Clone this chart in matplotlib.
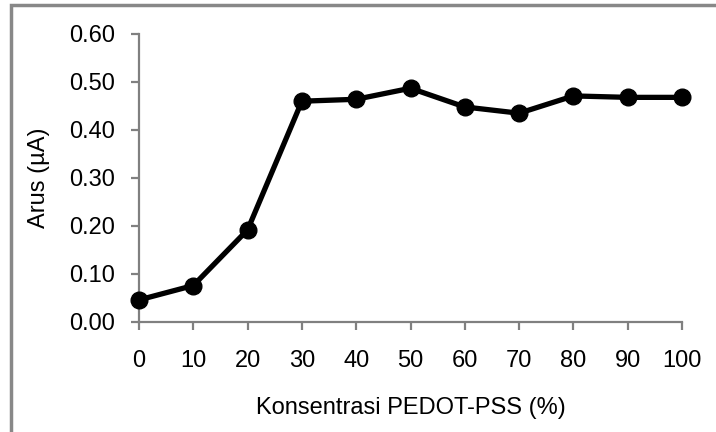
import matplotlib
matplotlib.use("Agg")
import matplotlib.pyplot as plt
from matplotlib.patches import Rectangle

# data
konsentrasi = [0, 10, 20, 30, 40, 50, 60, 70, 80, 90, 100]
arus = [0.046, 0.076, 0.192, 0.460, 0.464, 0.487, 0.448, 0.435, 0.471, 0.468, 0.468]
y_ticks = [0.0, 0.1, 0.2, 0.3, 0.4, 0.5, 0.6]

plt.rcParams['font.family'] = ['Liberation Sans', 'DejaVu Sans']

fig = plt.figure(figsize=(7.16, 4.32), dpi=100)
ax = fig.add_axes([139 / 716, 1 - 322 / 432, (682 - 139) / 716, (322 - 34) / 432])

ax.plot(konsentrasi, arus, color='black', lw=3.8, marker='o', ms=12,
        clip_on=False, zorder=3)

ax.set_xlim(0, 100)
ax.set_ylim(0, 0.6)
ax.set_xticks(konsentrasi)
ax.set_yticks(y_ticks)
ax.set_yticklabels([f'{v:.2f}' for v in y_ticks])

for s in ['top', 'right']:
    ax.spines[s].set_visible(False)
for s in ['left', 'bottom']:
    ax.spines[s].set_color('#808080')
    ax.spines[s].set_linewidth(1.6)

ax.tick_params(axis='both', colors='#808080', labelcolor='black', width=1.6,
               length=6, labelsize=17)
ax.tick_params(axis='y', pad=11)
ax.tick_params(axis='x', pad=14)

ax.set_xlabel('Konsentrasi PEDOT-PSS (%)', fontsize=17, labelpad=18)
ax.set_ylabel('Arus (µA)', fontsize=17, labelpad=14)

# outer frame of the chart area (clipped at right and bottom)
fig.patches.append(Rectangle((11 / 716, -0.1), 1.2, 1 - 5 / 432 + 0.1,
                             transform=fig.transFigure, fill=False,
                             edgecolor='#888888', lw=2.5))

fig.savefig('out.png', dpi=100)
